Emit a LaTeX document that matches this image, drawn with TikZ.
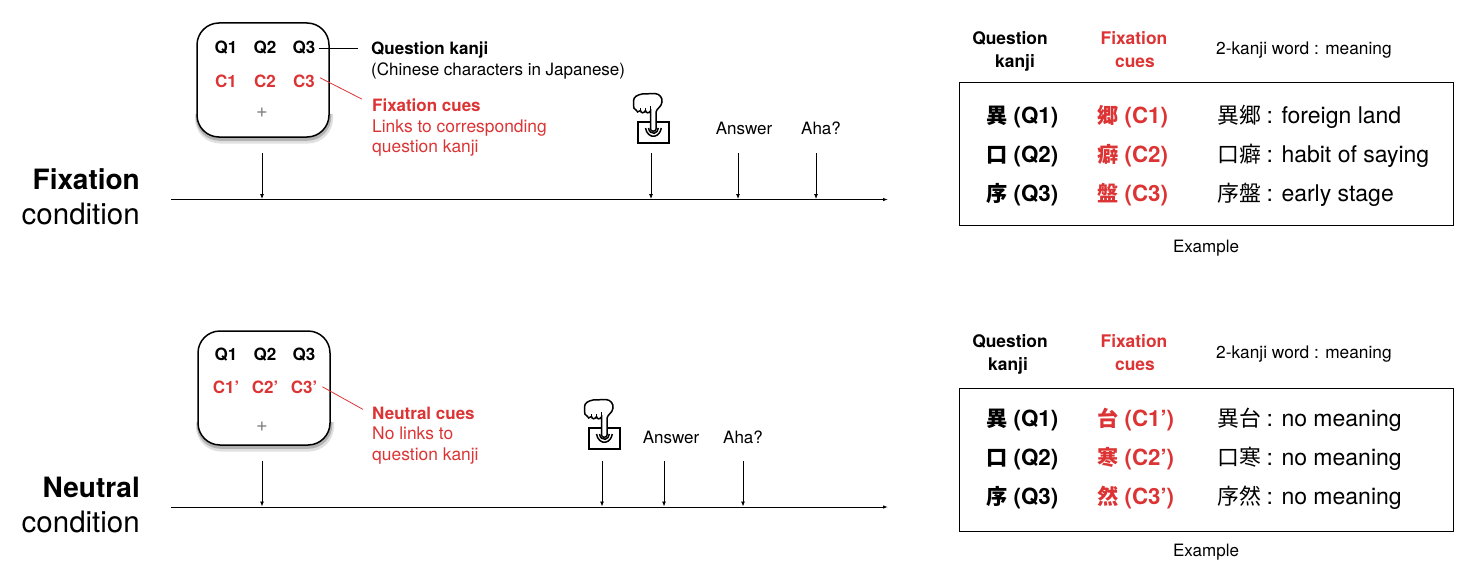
\documentclass[tikz,border=0pt]{standalone}
\usepackage{fontspec}
\setmainfont{TeX Gyre Heros}
\newfontfamily\cjk[Scale=0.95]{Noto Sans CJK JP}
\usetikzlibrary{arrows.meta, calc}
\definecolor{cuered}{RGB}{220, 52, 52}
\tikzset{
    txt/.style={inner sep=0, anchor=base west, font=\fontsize{#1}{#1}\selectfont},
    bold/.style={inner sep=0, anchor=base west, font=\bfseries\fontsize{#1}{#1}\selectfont},
    mid/.style={anchor=base},
    timeline/.style={line width=0.9pt, -{Latex[length=5pt, width=3.5pt]}}, % axis at the bottom
    tick/.style={line width=0.8pt, -{Latex[length=5pt, width=4pt]}},
    cuebox/.style={draw, line width=1.5pt, fill=white, rounded corners=22pt, minimum width=132pt,
        minimum height=114pt},
    softshadow/.pic={ % strokes round the lower edge of the box
        \draw[black!12, line width=6pt, rounded corners=22pt] (-65, 34) -- (-65, 60.5) -- (67, 60.5) -- (67, 34);
        \draw[black!30, line width=3.5pt, rounded corners=22pt] (-65.5, 34) -- (-65.5, 59) -- (66.5, 59) -- (66.5, 34);
    },
    tablebox/.style={draw, line width=0.9pt, minimum width=494pt, minimum height=143pt},
    pushbutton/.pic={
        \draw[line width=1.6pt, fill=white] (-14, 2) rectangle (17, 23);
        \draw[line width=1.5pt] (-6.5, 8) arc[start angle=170, end angle=10, x radius=8, y radius=10];
        \draw[line width=1.5pt] (-3.5, 8) arc[start angle=170, end angle=10, x radius=5, y radius=6.5];
        \draw[line width=1.5pt, fill=white] (-1.5, 9) -- (-1.5, -9)
            .. controls (-3, -6.5) and (-6, -6.5) .. (-6.5, -9.5)
            .. controls (-8, -6.5) and (-11, -6.5) .. (-11.5, -9.5)
            .. controls (-13, -7.5) and (-16, -7.5) .. (-16, -10)
            .. controls (-18, -11) and (-18.5, -12) .. (-18.5, -15) -- (-18.5, -19)
            .. controls (-18.5, -23) and (-15, -25) .. (-10, -26) -- (3, -26.5)
            .. controls (8, -26) and (10.5, -22) .. (10, -18)
            .. controls (9.5, -13) and (5, -12) .. (4, -8)
            -- (4, 9) .. controls (4, 12) and (-1.5, 12) .. cycle;
        \draw[line width=1.2pt] (-1.5, -9) -- (-1.5, -14);
        \draw[line width=1.2pt] (-6.5, -9.5) -- (-6.5, -12);
        \draw[line width=1.2pt] (-11.5, -9.5) -- (-11.5, -12);
    },
}

\begin{document}
\begin{tikzpicture}[x=1pt, y=-1pt]
    \useasboundingbox (0, 0) rectangle (1480, 578);

    % fixation condition
    \node[bold=28, anchor=base east] (fixTitle) at (140, 189) {Fixation};
    \node[txt=29.5, anchor=base east] (fixSub) at (140, 224) {condition};
    \pic at (263, 80) {softshadow};
    \node[cuebox] (fixBox) at (263, 80) {};
    \node[bold=17, mid] (fixQa) at (226, 54) {Q1};
    \node[bold=17, mid] (fixQb) at (265, 54) {Q2};
    \node[bold=17, mid] (fixQc) at (304, 54) {Q3};
    \node[bold=17, mid, text=cuered] (fixCa) at (226, 87) {C1};
    \node[bold=17, mid, text=cuered] (fixCb) at (265, 87) {C2};
    \node[bold=17, mid, text=cuered] (fixCc) at (304, 87) {C3};
    \node[txt=20, mid, text=gray] (fixPlus) at (262, 117) {+};
    \node[bold=17] (fixQhead) at (371, 54.5) {Question kanji};
    \node[txt=17] (fixQnote) at (371, 75) {(Chinese characters in Japanese)};
    \node[bold=17, text=cuered] (fixChead) at (372, 111) {Fixation cues};
    \node[txt=17.4, text=cuered] (fixCnote) at (372, 132) {Links to corresponding};
    \node[txt=17.4, text=cuered] (fixCnoteb) at (372, 152) {question kanji};
    \draw[line width=0.8pt, shorten <=3pt, shorten >=13pt] (fixQc.east) -- (fixQc.east -| fixQhead.west);
    \draw[cuered, line width=0.8pt] ($(fixCc.east) + (5, -3)$) -- ($(fixChead.north west) + (-10, 1)$);
    \pic at (652, 120) {pushbutton};
    \node[txt=17, mid] (fixAns) at (744, 134) {Answer};
    \node[txt=17, mid] (fixAha) at (821, 134) {Aha?};
    \coordinate (fixStart) at (171, 199.5);
    \coordinate (fixEnd) at (888, 199.5);
    \draw[timeline] (fixStart) -- (fixEnd);
    \foreach \n/\xx in {a/262, b/651, c/738, d/816} {
        \coordinate (fixTick\n) at (\xx, 153);
        \coordinate (fixHit\n) at (\xx, 199);
        \draw[tick] (fixTick\n) -- (fixHit\n);
    }

    % neutral condition
    \node[bold=28, anchor=base east] (neuTitle) at (140, 497) {Neutral};
    \node[txt=29.5, anchor=base east] (neuSub) at (140, 532) {condition};
    \pic at (264, 388) {softshadow};
    \node[cuebox] (neuBox) at (264, 388) {};
    \node[bold=17, mid] (neuQa) at (226, 360) {Q1};
    \node[bold=17, mid] (neuQb) at (265, 360) {Q2};
    \node[bold=17, mid] (neuQc) at (304, 360) {Q3};
    \node[bold=17, mid, text=cuered] (neuCa) at (226, 393) {C1’};
    \node[bold=17, mid, text=cuered] (neuCb) at (265, 393) {C2’};
    \node[bold=17, mid, text=cuered] (neuCc) at (304, 393) {C3’};
    \node[txt=20, mid, text=gray] (neuPlus) at (262, 431) {+};
    \node[bold=17, text=cuered] (neuChead) at (372, 419) {Neutral cues};
    \node[txt=17.4, text=cuered] (neuCnote) at (372, 439) {No links to};
    \node[txt=17.4, text=cuered] (neuCnoteb) at (372, 460) {question kanji};
    \draw[cuered, line width=0.8pt] ($(neuCc.east) + (5, 0)$) -- ($(neuChead.north west) + (-9, 3)$);
    \pic at (603, 426) {pushbutton};
    \node[txt=17, mid] (neuAns) at (671, 443) {Answer};
    \node[txt=17, mid] (neuAha) at (743, 443) {Aha?};
    \coordinate (neuStart) at (171, 507);
    \coordinate (neuEnd) at (888, 507);
    \draw[timeline] (neuStart) -- (neuEnd);
    \foreach \n/\xx in {a/262, b/602, c/664, d/743} {
        \coordinate (neuTick\n) at (\xx, 461);
        \coordinate (neuHit\n) at (\xx, 506.5);
        \draw[tick] (neuTick\n) -- (neuHit\n);
    }

    % example tables
    \node[tablebox] (fixTable) at (1206, 153.5) {};
    \node[bold=17.4, mid] (fixTq) at (1010, 44.5) {Question};
    \node[bold=17.4, mid] (fixTk) at (1015, 67) {kanji};
    \node[bold=17.4, mid, text=cuered] (fixTf) at (1134, 44.5) {Fixation};
    \node[bold=17.4, mid, text=cuered] (fixTc) at (1135, 67) {cues};
    \node[txt=17.3] (fixTw) at (1216, 55) {2-kanji word : meaning};
    \node[txt=17, mid] (fixTe) at (1206, 252.5) {Example};
    \foreach \n/\yy/\kq/\qq/\kc/\cc/\wrd in {
        a/123/異/Q1/郷/C1/foreign land,
        b/162/口/Q2/癖/C2/habit of saying,
        c/201/序/Q3/盤/C3/early stage} {
        \node[bold=22.3] (fixRq\n) at (986, \yy) {{\cjk\kq} (\qq)};
        \node[bold=22.3, text=cuered] (fixRc\n) at (1097, \yy) {{\cjk\kc} (\cc)};
        \node[txt=23] (fixRw\n) at (1217, \yy) {{\cjk\kq\kc}\kern-0.7pt{} : \wrd};
    }

    \node[tablebox] (neuTable) at (1206, 459.5) {};
    \node[bold=17.4, mid] (neuTq) at (1010, 347) {Question};
    \node[bold=17.4, mid] (neuTk) at (1008, 370) {kanji};
    \node[bold=17.4, mid, text=cuered] (neuTf) at (1134, 347) {Fixation};
    \node[bold=17.4, mid, text=cuered] (neuTc) at (1135, 370) {cues};
    \node[txt=17.3] (neuTw) at (1216, 358) {2-kanji word : meaning};
    \node[txt=17, mid] (neuTe) at (1206, 556) {Example};
    \foreach \n/\yy/\kq/\qq/\kc/\cc in {
        a/426/異/Q1/台/C1,
        b/465/口/Q2/寒/C2,
        c/504/序/Q3/然/C3} {
        \node[bold=22.3] (neuRq\n) at (986, \yy) {{\cjk\kq} (\qq)};
        \node[bold=22.3, text=cuered] (neuRc\n) at (1097, \yy) {{\cjk\kc} (\cc’)};
        \node[txt=23] (neuRw\n) at (1217, \yy) {{\cjk\kq\kc}\kern-0.7pt{} : no meaning};
    }
\end{tikzpicture}
\end{document}
